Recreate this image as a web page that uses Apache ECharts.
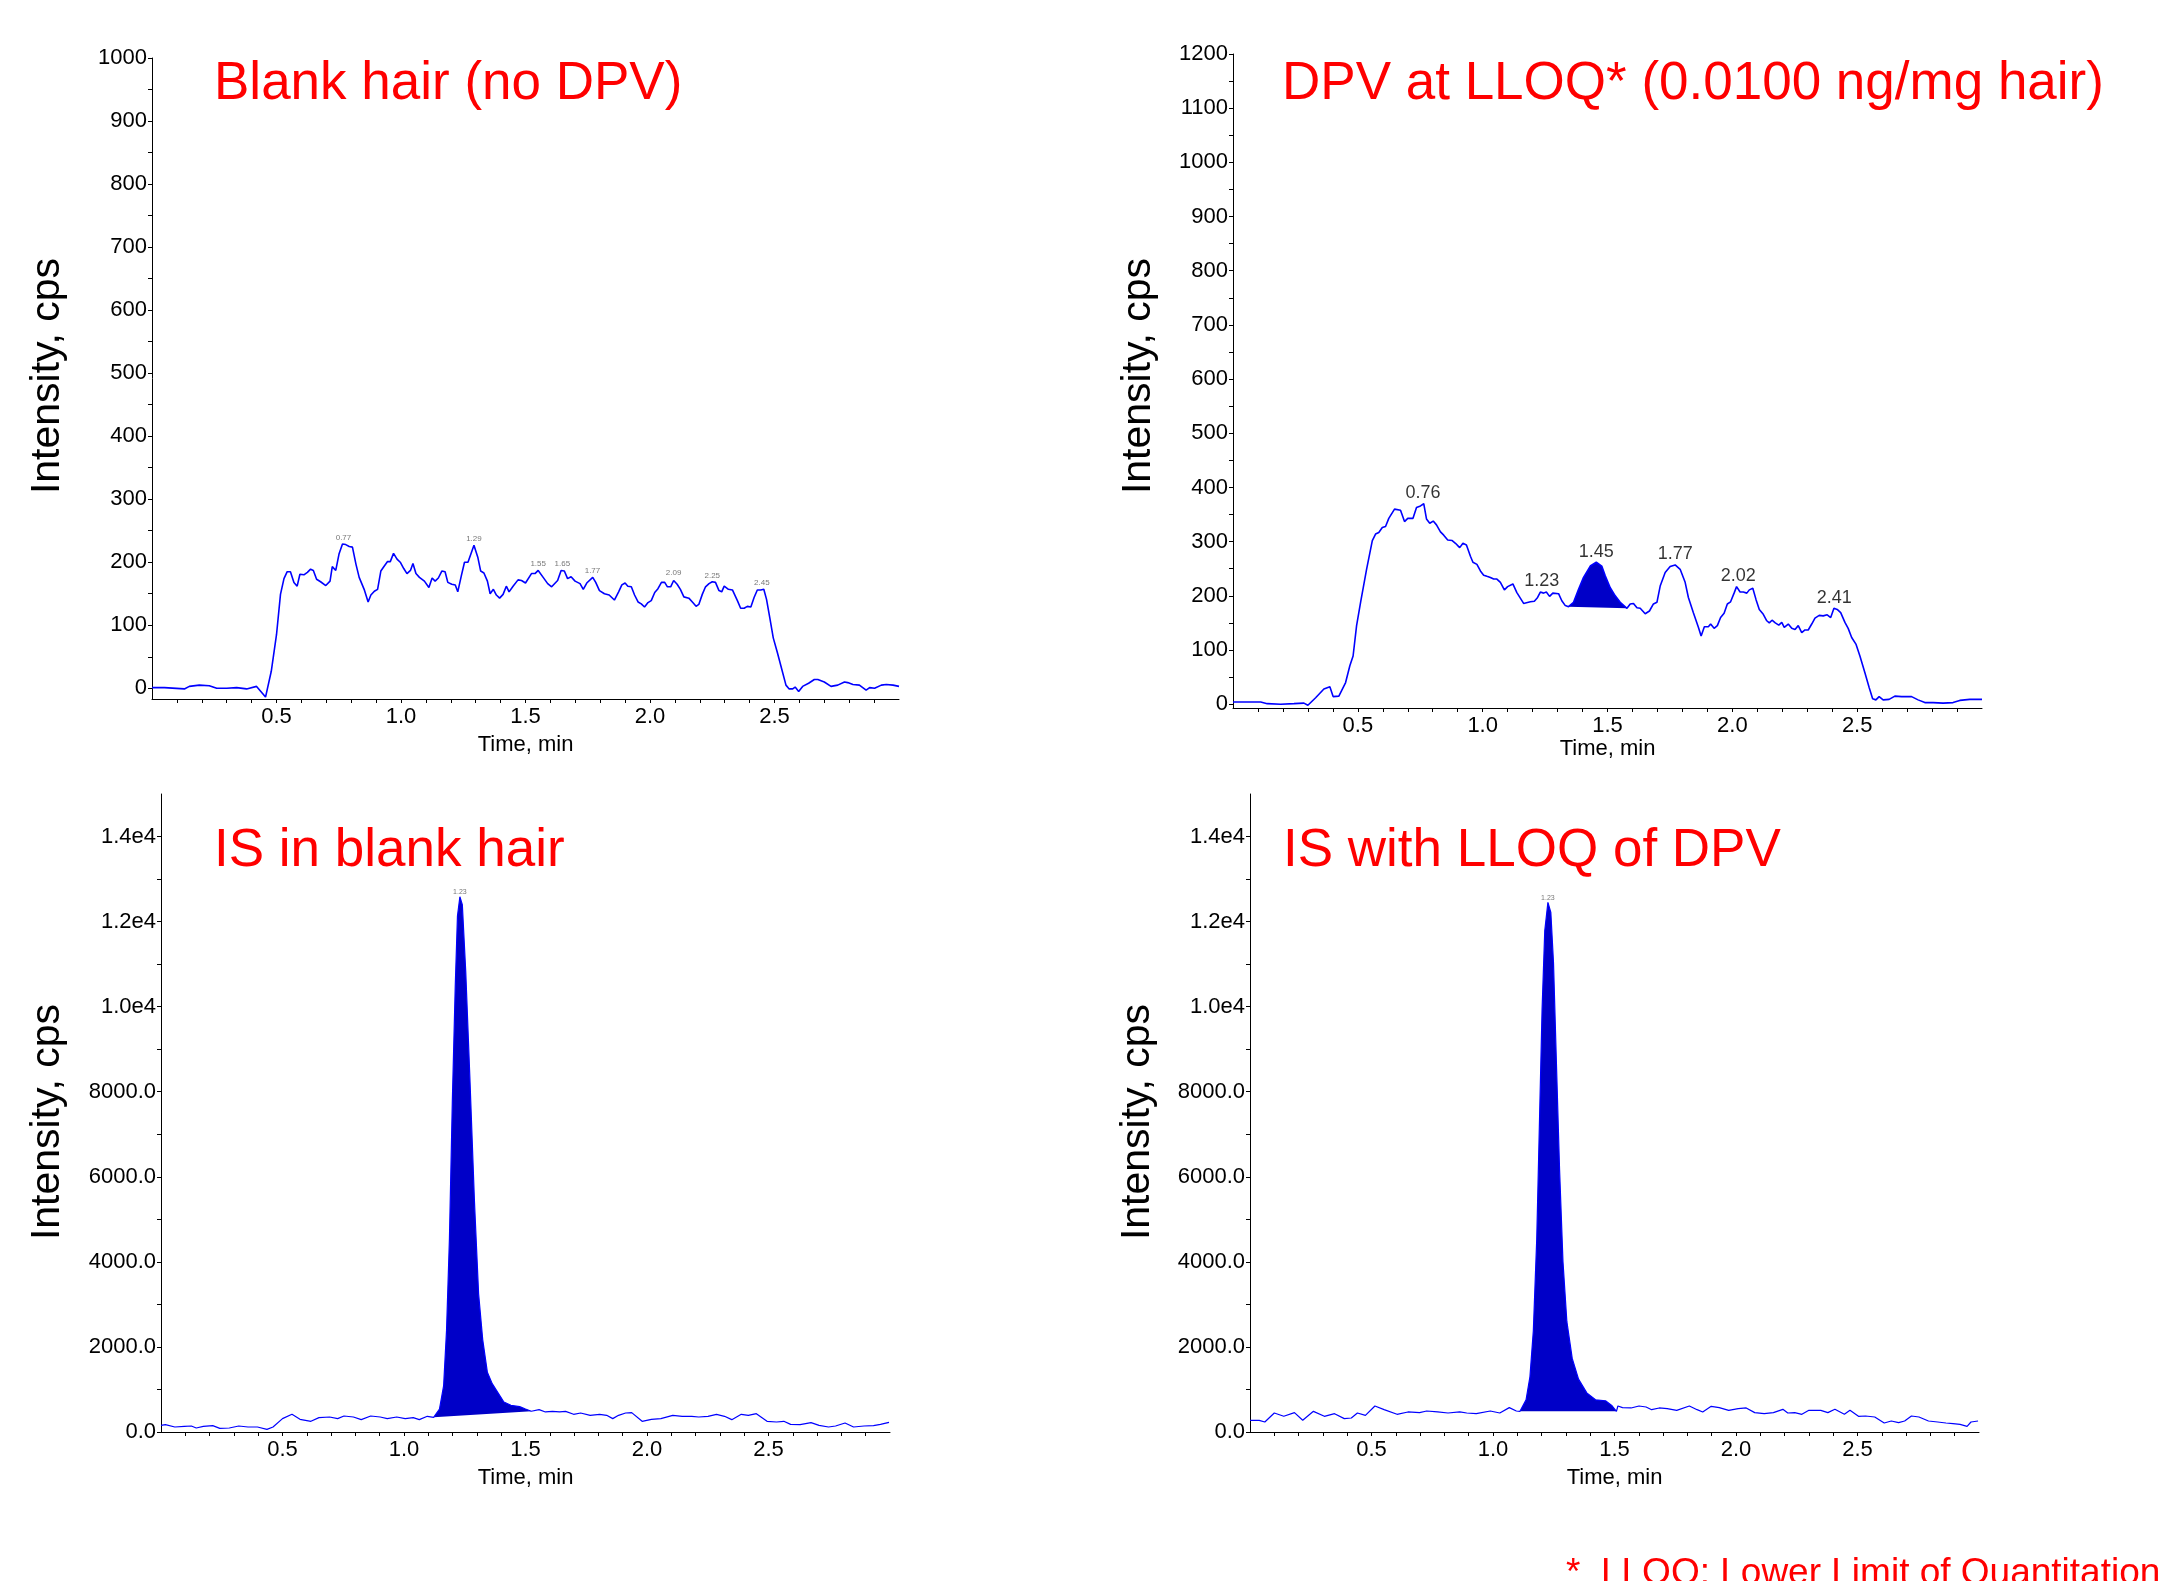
<!DOCTYPE html>
<html>
<head>
<meta charset="utf-8">
<title>DPV / IS chromatograms</title>
<script src="https://cdn.jsdelivr.net/npm/echarts@6/dist/echarts.min.js"></script>
<style>
    html, body { margin: 0; padding: 0; background: #fff; }
    #chart { width: 2158px; height: 1581px; }
</style>
</head>
<body>
<div id="chart"></div>
<script>
// traces: [time (min), intensity (cps)]
var blankTrace = [
    [0.00,1],[0.05,1],[0.13,-1],[0.15,3],[0.19,5],[0.23,4],[0.26,0],[0.30,0],[0.34,1],[0.38,-1],[0.42,3],
    [0.456,-14],[0.479,27],[0.50,85],[0.516,149],[0.53,174],[0.543,185],[0.556,185],[0.57,168],[0.583,162],
    [0.594,181],[0.61,180],[0.624,184],[0.637,189],[0.648,187],[0.661,173],[0.677,169],[0.698,163],[0.715,170],
    [0.724,193],[0.738,187],[0.751,213],[0.765,229],[0.778,228],[0.792,225],[0.805,224],[0.819,197],[0.832,176],
    [0.852,157],[0.868,137],[0.879,148],[0.893,154],[0.906,157],[0.919,186],[0.933,194],[0.946,201],[0.957,201],
    [0.97,214],[0.984,205],[0.997,200],[1.011,190],[1.024,182],[1.038,187],[1.048,198],[1.06,182],[1.074,176],
    [1.094,170],[1.112,160],[1.125,175],[1.137,170],[1.15,175],[1.164,186],[1.177,185],[1.188,168],[1.204,165],
    [1.218,164],[1.228,153],[1.242,178],[1.255,200],[1.269,200],[1.293,227],[1.309,207],[1.32,186],[1.333,183],
    [1.347,170],[1.358,150],[1.371,157],[1.383,148],[1.396,143],[1.41,149],[1.423,162],[1.434,153],[1.45,162],
    [1.47,172],[1.484,171],[1.50,167],[1.524,182],[1.538,182],[1.551,187],[1.571,176],[1.589,166],[1.605,161],
    [1.629,171],[1.643,187],[1.656,186],[1.669,174],[1.683,177],[1.699,170],[1.719,166],[1.732,157],[1.746,167],
    [1.77,176],[1.782,168],[1.797,155],[1.817,150],[1.836,148],[1.857,140],[1.874,153],[1.887,164],[1.90,167],
    [1.911,162],[1.925,161],[1.938,148],[1.952,137],[1.965,134],[1.978,129],[1.992,136],[2.005,139],[2.019,152],
    [2.032,158],[2.046,168],[2.059,168],[2.07,161],[2.083,161],[2.095,171],[2.109,165],[2.122,157],[2.136,145],
    [2.156,143],[2.172,136],[2.185,130],[2.196,133],[2.21,149],[2.223,161],[2.237,166],[2.25,169],[2.263,168],
    [2.277,155],[2.288,153],[2.298,162],[2.315,157],[2.331,156],[2.339,154],[2.351,139],[2.364,127],[2.378,127],
    [2.391,130],[2.405,129],[2.418,144],[2.431,156],[2.445,156],[2.457,157],[2.468,141],[2.481,112],[2.495,80],
    [2.512,56],[2.53,29],[2.546,5],[2.559,-1],[2.573,-1],[2.583,2],[2.597,-5],[2.613,3],[2.637,8],[2.66,14],
    [2.674,14],[2.70,10],[2.727,3],[2.754,5],[2.781,10],[2.794,9],[2.815,6],[2.841,5],[2.868,-3],[2.882,1],
    [2.902,0],[2.929,5],[2.949,6],[2.976,5],[3.0,3]
];

var dpvTrace = [
    [0,4],[0.111,4],[0.137,1],[0.191,0],[0.244,1],[0.284,2],[0.30,-2],[0.331,12],[0.364,28],[0.388,32],[0.401,14],
    [0.424,15],[0.451,40],[0.468,71],[0.481,89],[0.495,145],[0.511,188],[0.535,249],[0.558,302],[0.571,314],
    [0.584,317],[0.598,326],[0.611,328],[0.624,343],[0.647,360],[0.671,358],[0.687,337],[0.70,343],[0.721,343],
    [0.735,363],[0.751,366],[0.764,370],[0.775,342],[0.788,334],[0.802,338],[0.815,331],[0.831,318],[0.844,312],
    [0.86,303],[0.878,302],[0.891,297],[0.908,289],[0.921,297],[0.935,294],[0.951,273],[0.961,262],[0.977,258],
    [0.991,246],[1.004,238],[1.017,236],[1.031,234],[1.044,231],[1.057,231],[1.071,225],[1.087,211],[1.10,217],
    [1.121,222],[1.137,206],[1.164,186],[1.191,189],[1.207,190],[1.22,197],[1.231,207],[1.244,205],[1.255,207],
    [1.268,199],[1.281,205],[1.304,204],[1.317,191],[1.331,182],[1.344,180],[1.364,188],[1.384,212],[1.404,234],
    [1.431,255],[1.455,262],[1.477,255],[1.491,237],[1.511,215],[1.531,200],[1.551,188],[1.578,177],[1.591,185],
    [1.604,186],[1.618,178],[1.631,177],[1.651,167],[1.668,172],[1.684,185],[1.698,188],[1.711,218],[1.731,243],
    [1.751,254],[1.771,257],[1.791,249],[1.811,225],[1.824,197],[1.844,169],[1.864,142],[1.875,126],[1.888,143],
    [1.904,143],[1.913,148],[1.927,140],[1.94,145],[1.953,160],[1.967,168],[1.98,185],[1.993,189],[2.007,205],
    [2.017,217],[2.031,207],[2.044,207],[2.058,205],[2.068,211],[2.082,214],[2.095,193],[2.108,175],[2.124,166],
    [2.138,154],[2.148,150],[2.159,155],[2.172,150],[2.186,146],[2.198,151],[2.208,142],[2.224,148],[2.238,140],
    [2.251,138],[2.264,145],[2.278,132],[2.291,137],[2.304,137],[2.318,148],[2.331,159],[2.348,164],[2.364,163],
    [2.38,165],[2.394,160],[2.407,177],[2.42,175],[2.434,169],[2.451,151],[2.464,140],[2.478,123],[2.495,111],
    [2.511,89],[2.531,58],[2.548,31],[2.562,10],[2.575,8],[2.588,14],[2.604,8],[2.628,9],[2.651,15],[2.678,14],
    [2.718,14],[2.744,8],[2.771,3],[2.804,3],[2.844,2],[2.884,3],[2.911,7],[2.951,9],[3.0,9]
];

var isBlankTrace = [
    [0,157],[0.018,173],[0.057,118],[0.096,133],[0.125,141],[0.145,94],[0.174,133],[0.213,149],[0.242,86],
    [0.281,94],[0.32,141],[0.358,118],[0.397,118],[0.436,63],[0.461,118],[0.50,314],[0.539,416],[0.572,298],
    [0.617,251],[0.65,337],[0.694,353],[0.727,314],[0.753,376],[0.792,353],[0.824,290],[0.863,376],[0.902,353],
    [0.931,314],[0.97,353],[1.005,314],[1.038,337],[1.063,290],[1.096,369],[1.122,345],
    [1.146,541],[1.163,1083],[1.175,2383],[1.187,4549],[1.199,7798],[1.211,10505],[1.22,12130],[1.23,12585],
    [1.24,12400],[1.254,10830],[1.271,8339],[1.29,5415],[1.307,3249],[1.324,2166],[1.343,1408],[1.363,1137],
    [1.387,921],[1.411,704],[1.44,628],[1.476,596],[1.50,541],[1.524,487],
    [1.556,525],[1.582,471],[1.611,486],[1.64,471],[1.665,486],[1.698,416],[1.727,447],[1.766,392],[1.805,416],
    [1.834,392],[1.859,314],[1.883,392],[1.912,447],[1.937,455],[1.98,251],[2.018,298],[2.057,314],[2.106,392],
    [2.145,369],[2.184,369],[2.213,353],[2.251,369],[2.286,416],[2.319,369],[2.349,290],[2.388,416],[2.417,392],
    [2.45,431],[2.494,251],[2.533,235],[2.563,251],[2.591,180],[2.63,173],[2.675,220],[2.708,157],[2.747,118],
    [2.776,141],[2.815,212],[2.85,118],[2.893,141],[2.932,149],[2.961,180],[2.996,227]
];

var isLloqTrace = [
    [0,275],[0.038,275],[0.061,235],[0.10,447],[0.139,369],[0.183,455],[0.217,275],[0.261,486],[0.306,369],
    [0.348,431],[0.388,314],[0.417,329],[0.442,447],[0.475,392],[0.514,612],[0.552,525],[0.605,416],[0.65,471],
    [0.698,455],[0.727,494],[0.772,471],[0.815,447],[0.863,471],[0.892,447],[0.931,431],[0.989,494],[1.028,447],
    [1.067,573],[1.096,494],[1.111,486],
    [1.136,757],[1.152,1297],[1.166,2378],[1.18,4540],[1.191,7243],[1.202,9945],[1.213,11783],[1.226,12453],
    [1.238,12215],[1.249,11026],[1.26,8864],[1.274,6162],[1.288,4000],[1.304,2594],[1.326,1730],[1.352,1243],
    [1.386,919],[1.422,757],[1.463,735],[1.49,616],[1.508,486],
    [1.514,612],[1.533,573],[1.568,565],[1.601,612],[1.63,588],[1.653,525],[1.684,565],[1.717,549],[1.756,510],
    [1.808,612],[1.84,525],[1.863,471],[1.898,604],[1.931,573],[1.97,510],[2.009,549],[2.042,565],[2.077,455],
    [2.116,431],[2.154,455],[2.193,533],[2.213,447],[2.242,455],[2.271,416],[2.30,510],[2.349,510],[2.378,455],
    [2.407,533],[2.446,416],[2.469,510],[2.504,369],[2.533,376],[2.571,353],[2.61,212],[2.639,259],[2.669,220],
    [2.694,259],[2.722,376],[2.753,353],[2.792,259],[2.83,235],[2.864,212],[2.893,196],[2.922,180],[2.951,133],
    [2.967,235],[2.996,259]
];

// integrated (filled) peaks: time window
var dpvPeakWindow = [1.344, 1.578];
var isBlankPeakWindow = [1.122, 1.524];
var isLloqPeakWindow = [1.111, 1.508];

// apex labels: [time, intensity, text]
var blankPeakLabels = [[0.769,231,'0.77'],[1.293,230,'1.29'],[1.551,190,'1.55'],[1.648,190,'1.65'],
    [1.769,178,'1.77'],[2.095,176,'2.09'],[2.25,170,'2.25'],[2.449,160,'2.45']];
var dpvPeakLabels = [[0.761,372,'0.76'],[1.237,208,'1.23'],[1.455,263,'1.45'],[1.771,258,'1.77'],
    [2.024,218,'2.02'],[2.408,178,'2.41']];
var isBlankPeakLabels = [[1.23,12585,'1.23']];
var isLloqPeakLabels = [[1.226,12453,'1.23']];

// axes
var timeLabels = [0.5, 1.0, 1.5, 2.0, 2.5];
var timeTicks = [0.1,0.2,0.3,0.4,0.5,0.6,0.7,0.8,0.9,1.0,1.1,1.2,1.3,1.4,1.5,1.6,1.7,1.8,1.9,2.0,
    2.1,2.2,2.3,2.4,2.5,2.6,2.7,2.8,2.9];
var blankLabels = [0,100,200,300,400,500,600,700,800,900,1000];
var blankTicks = [0,50,100,150,200,250,300,350,400,450,500,550,600,650,700,750,800,850,900,950,1000];
var dpvLabels = [0,100,200,300,400,500,600,700,800,900,1000,1100,1200];
var dpvTicks = [0,50,100,150,200,250,300,350,400,450,500,550,600,650,700,750,800,850,900,950,1000,
    1050,1100,1150,1200];
var isLabels = [0,2000,4000,6000,8000,10000,12000,14000];
var isTicks = [0,1000,2000,3000,4000,5000,6000,7000,8000,9000,10000,11000,12000,13000,14000];

var titles = ['Blank hair (no DPV)', 'DPV at LLOQ* (0.0100 ng/mg hair)', 'IS in blank hair', 'IS with LLOQ of DPV'];
var yName = 'Intensity, cps';
var footnote = '*  LLOQ: Lower Limit of Quantitation';

var SANS = '"Liberation Sans", Arial, sans-serif';
var TICK_SIZE = 22;
var LINE = '#0000FF';
var FILL = '#0000C8';

var chart = echarts.init(document.getElementById('chart'), null, {renderer: 'canvas'});

function xAxisFor(i, nameGap) {
    return {
        type: 'value', gridIndex: i, min: 0, max: 3,
        name: 'Time, min', nameLocation: 'middle', nameGap: nameGap,
        nameTextStyle: {fontFamily: SANS, fontSize: TICK_SIZE, color: '#000'},
        axisLine: {onZero: false, lineStyle: {color: '#000', width: 1}},
        axisTick: {customValues: timeTicks, length: 4, lineStyle: {color: '#000'}},
        axisLabel: {customValues: timeLabels, margin: 7, fontFamily: SANS, fontSize: TICK_SIZE, color: '#000',
            formatter: function (v) { return v.toFixed(1); }},
        splitLine: {show: false}
    };
}

function yAxisFor(i, min, max, labels, ticks, fmt) {
    return {
        type: 'value', gridIndex: i, min: min, max: max,
        axisLine: {show: true, onZero: false, lineStyle: {color: '#000', width: 1}},
        axisTick: {show: true, customValues: ticks, length: 4, lineStyle: {color: '#000'}},
        axisLabel: {customValues: labels, margin: 5, fontFamily: SANS, fontSize: TICK_SIZE, color: '#000',
            formatter: fmt},
        splitLine: {show: false}
    };
}

function traceSeries(i, pts, width) {
    return {
        type: 'line', xAxisIndex: i, yAxisIndex: i, data: pts,
        symbol: 'none', showSymbol: false, silent: true, z: 3,
        lineStyle: {color: LINE, width: width}
    };
}

// filled peak: the polygon closes from the last point back to the first (the drawn baseline)
function peakSeries(i, pts, win) {
    var inside = pts.filter(function (p) { return p[0] >= win[0] && p[0] <= win[1]; });
    return {
        type: 'custom', xAxisIndex: i, yAxisIndex: i, data: inside,
        encode: {x: 0, y: 1}, silent: true, z: 2,
        renderItem: function (params, api) {
            if (params.dataIndex !== 0) return null;
            return {
                type: 'polygon',
                shape: {points: inside.map(function (p) { return api.coord(p); })},
                style: {fill: FILL}
            };
        }
    };
}

function labelSeries(i, labels, size, color) {
    return {
        type: 'scatter', xAxisIndex: i, yAxisIndex: i, data: labels,
        symbolSize: 0, silent: true, z: 4,
        label: {show: true, position: 'top', distance: 1, fontFamily: SANS, fontSize: size, color: color,
            formatter: function (p) { return p.data[2]; }}
    };
}

function plainFmt(v) {
    return String(v);
}

function isFmt(v) {
    return v >= 10000 ? (v / 10000).toFixed(1) + 'e4' : v.toFixed(1);
}

function redTitle(x, y, txt) {
    return {type: 'text', x: x, y: y, silent: true,
        style: {text: txt, fill: '#FF0000', fontFamily: SANS, fontSize: 53,
            textAlign: 'left', textVerticalAlign: 'middle'}};
}

function yTitle(x, y) {
    return {type: 'text', x: x, y: y, rotation: Math.PI / 2, silent: true,
        style: {text: yName, fill: '#000', fontFamily: SANS, fontSize: 41,
            textAlign: 'center', textVerticalAlign: 'middle'}};
}

var option = {
    backgroundColor: '#fff',
    animation: false,
    grid: [
        {left: 152, top: 58, width: 747, height: 641, outerBoundsMode: 'none'},
        {left: 1233, top: 54, width: 749, height: 654, outerBoundsMode: 'none'},
        {left: 161, top: 794, width: 729, height: 638, outerBoundsMode: 'none'},
        {left: 1250, top: 794, width: 729, height: 638, outerBoundsMode: 'none'}
    ],
    xAxis: [xAxisFor(0, 35), xAxisFor(1, 28), xAxisFor(2, 35), xAxisFor(3, 35)],
    yAxis: [
        yAxisFor(0, -17, 1000, blankLabels, blankTicks, plainFmt),
        yAxisFor(1, -7, 1200, dpvLabels, dpvTicks, plainFmt),
        yAxisFor(2, 0, 15000, isLabels, isTicks, isFmt),
        yAxisFor(3, 0, 15000, isLabels, isTicks, isFmt)
    ],
    graphic: [
        redTitle(214, 84, titles[0]),
        redTitle(1282, 84, titles[1]),
        redTitle(214, 851, titles[2]),
        redTitle(1283, 851, titles[3]),
        yTitle(48, 376),
        yTitle(1139, 376),
        yTitle(48, 1122),
        yTitle(1138, 1122),
        {type: 'text', x: 1566, y: 1574, silent: true,
            style: {text: footnote, fill: '#FF0000', fontFamily: SANS, fontSize: 37,
                textAlign: 'left', textVerticalAlign: 'middle'}}
    ],
    series: [
        traceSeries(0, blankTrace, 1.6),
        labelSeries(0, blankPeakLabels, 8, '#555'),
        peakSeries(1, dpvTrace, dpvPeakWindow),
        traceSeries(1, dpvTrace, 1.6),
        labelSeries(1, dpvPeakLabels, 18, '#000'),
        peakSeries(2, isBlankTrace, isBlankPeakWindow),
        traceSeries(2, isBlankTrace, 1.2),
        labelSeries(2, isBlankPeakLabels, 7, '#555'),
        peakSeries(3, isLloqTrace, isLloqPeakWindow),
        traceSeries(3, isLloqTrace, 1.2),
        labelSeries(3, isLloqPeakLabels, 7, '#555')
    ]
};

chart.setOption(option);
</script>
</body>
</html>
